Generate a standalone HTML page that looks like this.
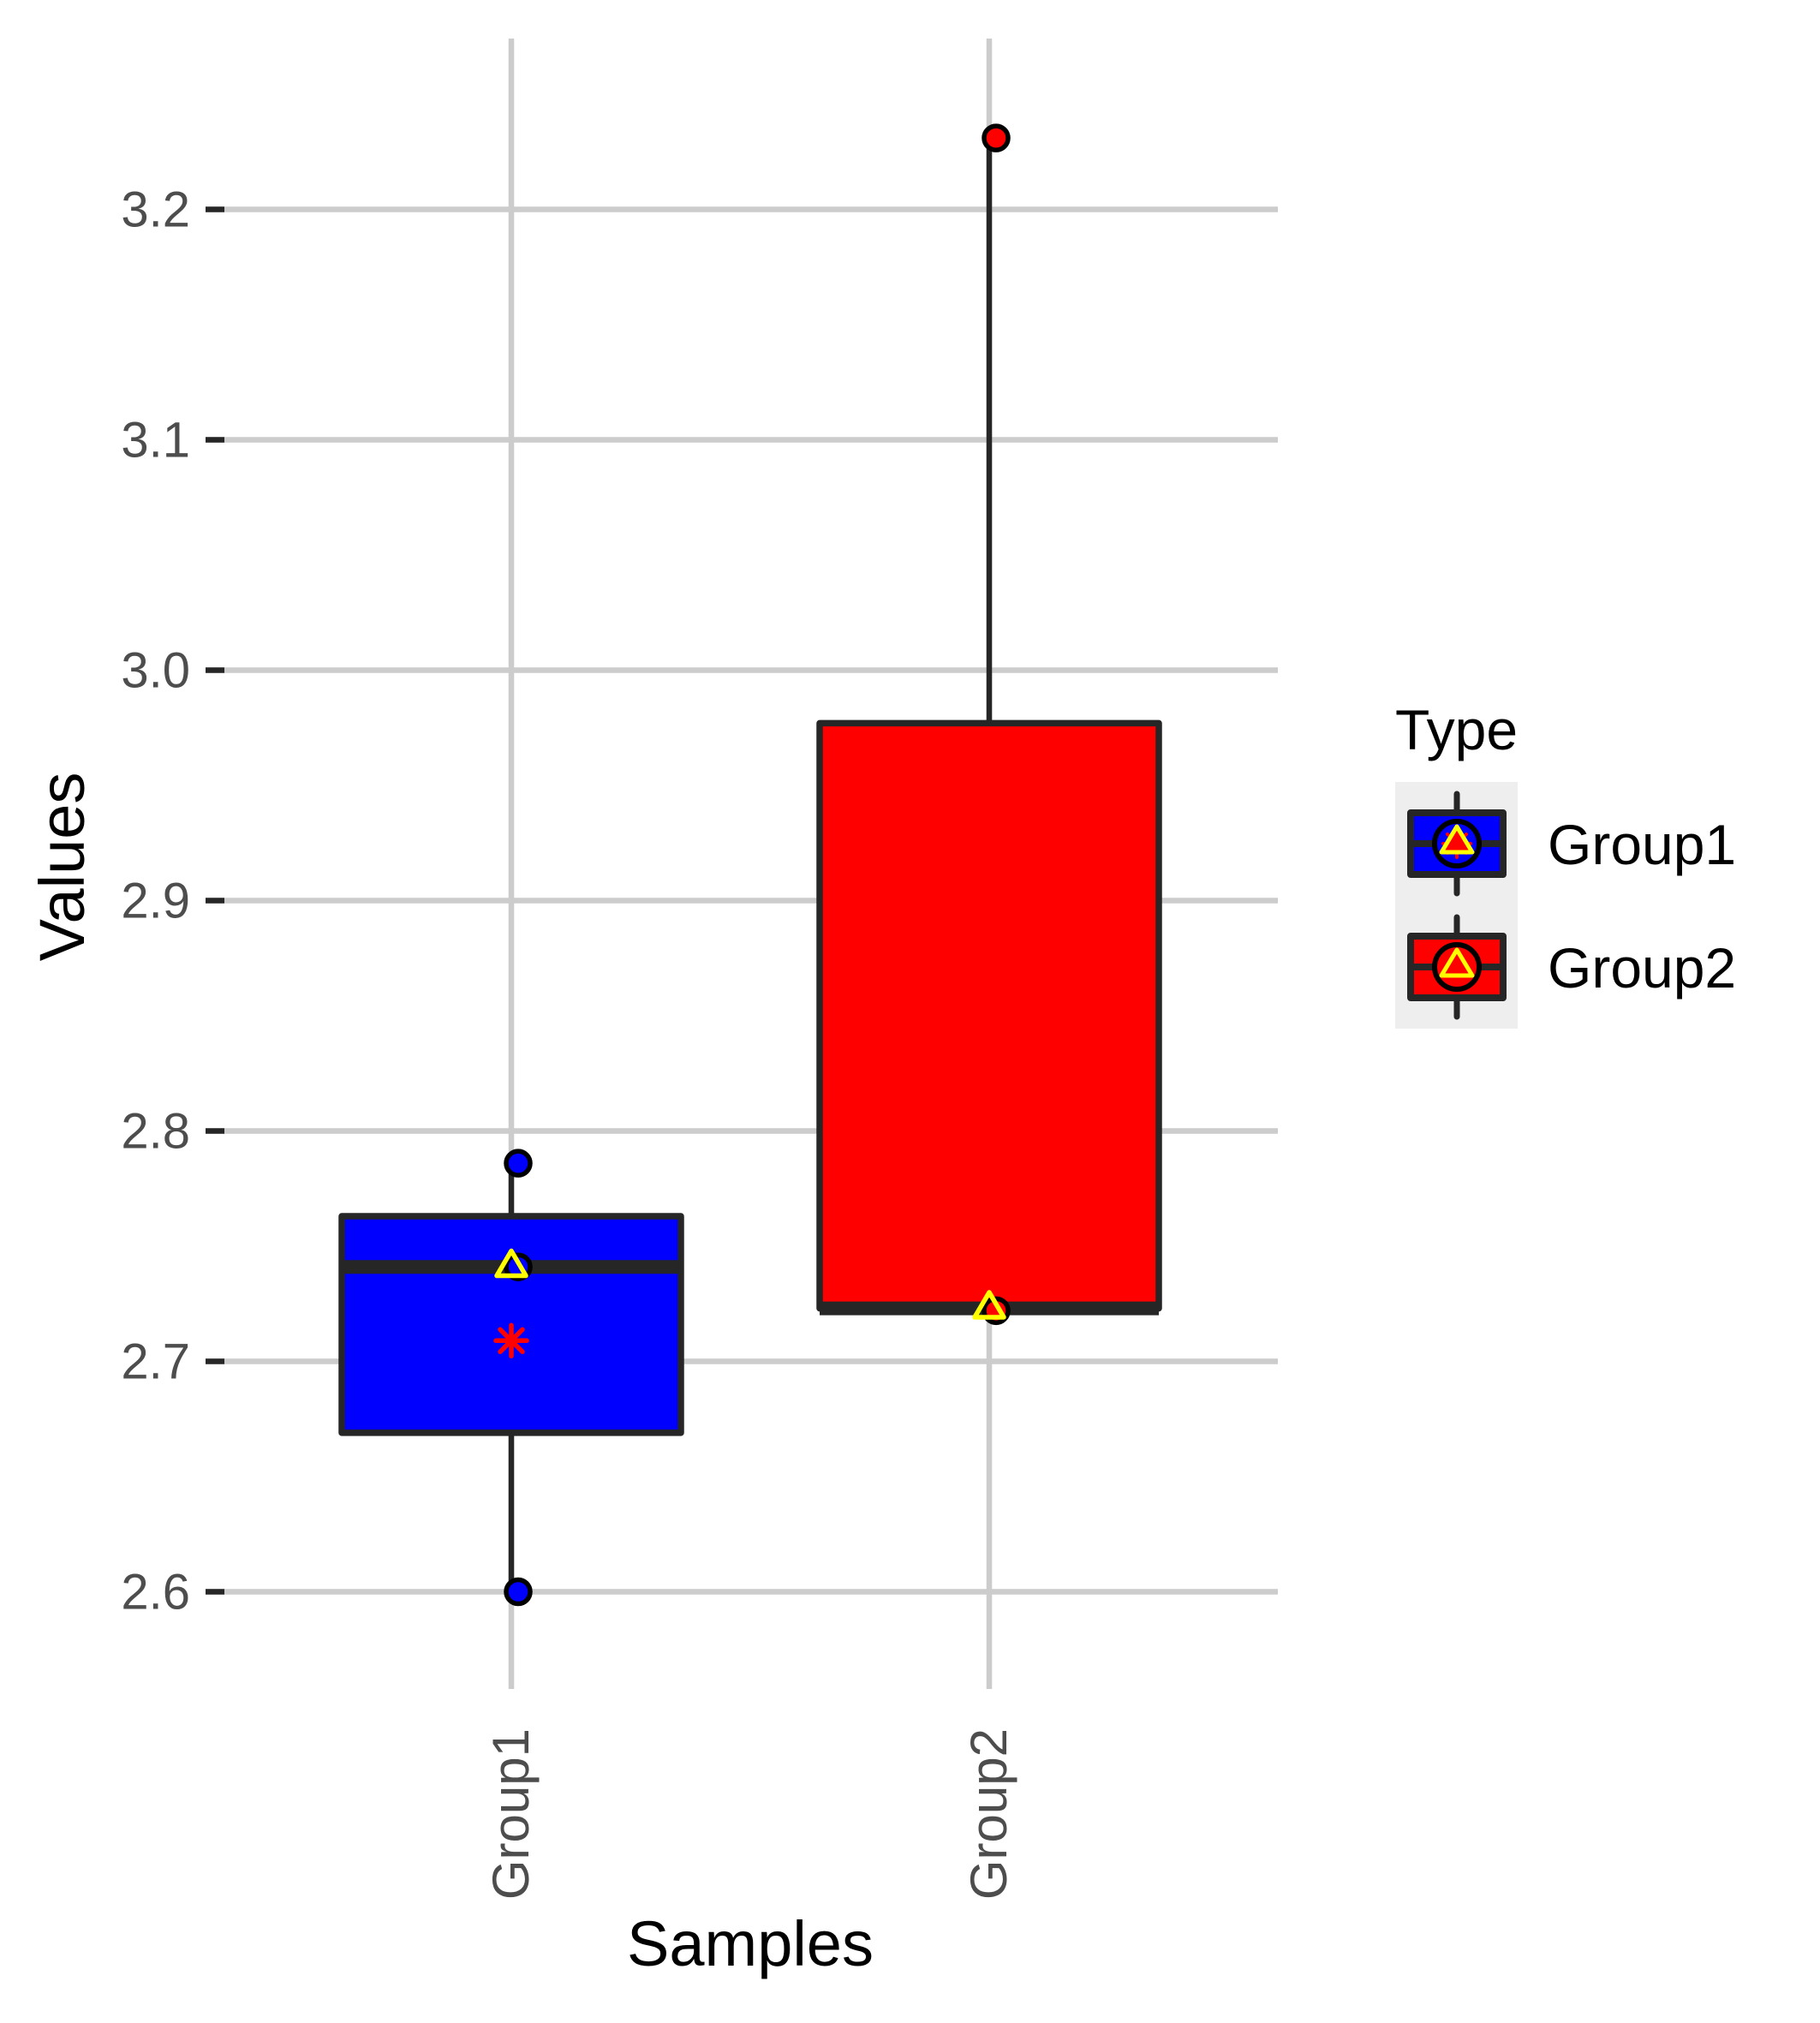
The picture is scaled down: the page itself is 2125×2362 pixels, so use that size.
<!DOCTYPE html>
<html><head><meta charset="utf-8"><style>
html,body{margin:0;padding:0;background:#fff;}
svg{display:block;font-family:"Liberation Sans",sans-serif;}
</style></head><body>
<svg id="chart" width="2125" height="2362" viewBox="0 0 2125 2362" xmlns="http://www.w3.org/2000/svg">
<g id="grid"></g>
<g id="boxes"></g>
<g id="yaxis"></g>
<g id="xaxis"></g>
<text x="98" y="1012" font-size="74" text-anchor="middle" transform="rotate(-90 98 1012)">Values</text>
<text x="876" y="2295" font-size="74" text-anchor="middle">Samples</text>
<g id="legend">
<text x="1629" y="875" font-size="66">Type</text>
</g>
</svg>
<script>
const categories = ["Group1","Group2"];
const q1 = [2.669, 2.723];
const med = [2.741, 2.723];
const q3 = [2.763, 2.977];
const whiskLo = [2.600, 2.723];
const whiskHi = [2.786, 3.231];
const means = [2.742, 2.724];
const starVals = [2.709, null];
const points = [[2.786, 2.741, 2.600],[3.231, 2.722]];
const fills = ["#0000ff","#ff0000"];
const yTicks = [2.6, 2.7, 2.8, 2.9, 3.0, 3.1, 3.2];
const yTickLabels = ["2.6","2.7","2.8","2.9","3.0","3.1","3.2"];

const NS="http://www.w3.org/2000/svg";
const y = v => 244.5 + (3.2 - v) * 2690;
const x = i => 597 + i * 558;
const halfW = 198;
function mk(tag, attrs, parent){const e=document.createElementNS(NS,tag);for(const k in attrs)e.setAttribute(k,attrs[k]);parent.appendChild(e);return e;}
const grid=document.getElementById('grid'), boxes=document.getElementById('boxes'), yax=document.getElementById('yaxis'), xax=document.getElementById('xaxis'), leg=document.getElementById('legend');

yTicks.forEach((t,i)=>{
  const g=mk('line',{x1:240,x2:1492,y1:y(t),y2:y(t),stroke:'#cccccc','stroke-width':6.5},grid);
  
  
  const tk=mk('line',{x1:240,x2:262,y1:y(t),y2:y(t),stroke:'#262626','stroke-width':6.5},yax);
  
  
  const tx=mk('text',{x:222,y:y(t)+20,'font-size':58,'text-anchor':'end',fill:'#4d4d4d'},yax);
  tx.textContent=yTickLabels[i];
  
  
});
categories.forEach((c,i)=>{
  const g=mk('line',{x1:x(i),x2:x(i),y1:45,y2:1972,stroke:'#cccccc','stroke-width':6.5},grid);
  
  
  const tx=mk('text',{x:0,y:0,'font-size':60,'text-anchor':'end',fill:'#4d4d4d',transform:`translate(${x(i)+20},2018) rotate(-90)`},xax);
  tx.textContent=c;
  
  

  const wl=mk('line',{x1:x(i),x2:x(i),y1:y(whiskHi[i]),y2:y(whiskLo[i]),stroke:'#262626','stroke-width':6.5},boxes);
  
  
  const r=mk('rect',{x:x(i)-halfW,y:y(q3[i]),width:2*halfW,height:y(q1[i])-y(q3[i]),fill:fills[i],stroke:'#262626','stroke-width':7.5,'stroke-linejoin':'round'},boxes);
  
  
  const m=mk('line',{x1:x(i)-halfW,x2:x(i)+halfW,y1:y(med[i]),y2:y(med[i]),stroke:'#262626','stroke-width':16},boxes);
  
  
  points[i].forEach(p=>{
    const ci=mk('circle',{cx:x(i)+8,cy:y(p),r:14,fill:fills[i],stroke:'#000','stroke-width':5.5},boxes);
    
    
  });
  if(starVals[i]!==null){
    const sy=y(starVals[i]), sx=x(i), s=18;
    const st=mk('path',{d:`M${sx} ${sy-s}V${sy+s}M${sx-s} ${sy}H${sx+s}M${sx-13} ${sy-13}L${sx+13} ${sy+13}M${sx-13} ${sy+13}L${sx+13} ${sy-13}`,stroke:'#ff0000','stroke-width':5.5,'stroke-linecap':'round'},boxes);
    
    
  }
  const my=y(means[i]), mx=x(i);
  const tri=mk('path',{d:`M${mx} ${my-16}L${mx+17} ${my+13}L${mx-17} ${my+13}Z`,fill:'none',stroke:'#ffff00','stroke-width':5.5,'stroke-linejoin':'round'},boxes);
  
  

  // legend
  const ky=913+i*144, kx=1629;
  const bg=mk('rect',{x:kx,y:ky,width:143,height:144,fill:'#eeeeee'},leg);
  
  
  const cx=kx+72, cy=ky+72;
  mk('line',{x1:cx,x2:cx,y1:ky+14,y2:ky+130,stroke:'#262626','stroke-width':7,'stroke-linecap':'round'},leg);
  const lb=mk('rect',{x:kx+18,y:ky+36,width:108,height:72,fill:fills[i],stroke:'#262626','stroke-width':8,'stroke-linejoin':'round'},leg);
  
  
  mk('line',{x1:kx+18,x2:kx+126,y1:cy,y2:cy,stroke:'#262626','stroke-width':8},leg);
  mk('circle',{cx:cx,cy:cy,r:26,fill:fills[i],stroke:'#000','stroke-width':6},leg);
  if(i===0) mk('path',{d:`M${cx} ${cy-16}V${cy+16}M${cx-16} ${cy}H${cx+16}M${cx-11} ${cy-11}L${cx+11} ${cy+11}M${cx-11} ${cy+11}L${cx+11} ${cy-11}`,stroke:'#ff0000','stroke-width':4,'stroke-linecap':'round'},leg);
  mk('path',{d:`M${cx} ${cy-20}L${cx+18} ${cy+10}L${cx-18} ${cy+10}Z`,fill:i===0?'#ff0000':'none',stroke:'#ffff00','stroke-width':5,'stroke-linejoin':'round'},leg);
  const lt=mk('text',{x:1807,y:cy+24,'font-size':66},leg);
  lt.textContent=c;
  
  
});
</script>
</body></html>
